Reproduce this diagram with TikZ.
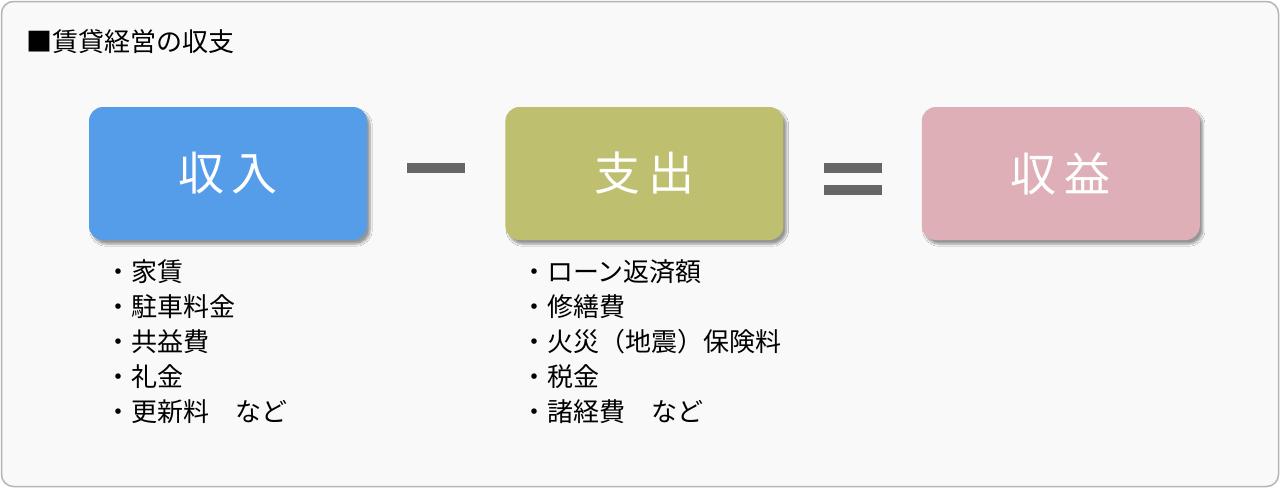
\documentclass[tikz,border=0pt]{standalone}
\usepackage{fontspec}
\setmainfont{Noto Sans CJK JP}
\usetikzlibrary{positioning}
\usetikzlibrary{shadows.blur}
\definecolor{frameline}{HTML}{B4B4B4}
\definecolor{framefill}{HTML}{F9F9F9}
\definecolor{incomeblue}{HTML}{559DE8}
\definecolor{costolive}{HTML}{BFBF70}
\definecolor{profitpink}{HTML}{DFAFB7}
\definecolor{signgray}{HTML}{666666}
\tikzset{
        boxnode/.style={align=center, inner sep=0pt, rounded corners=14pt, minimum width=278pt, minimum height=133pt,
            text=white, font=\fontsize{46}{46}\selectfont,
            blur shadow={shadow xshift=3pt, shadow yshift=-4pt, shadow opacity=40, shadow blur steps=6}},
        % Income box
        box_income/.style={boxnode, fill=incomeblue},
        % Cost box
        box_cost/.style={boxnode, fill=costolive},
        % Profit box
        box_profit/.style={boxnode, fill=profitpink},
        % Operator bars
        sign_bar/.style={inner sep=0pt, fill=signgray, minimum width=58pt, minimum height=10pt},
        % Item lists
        item_list/.style={align=left, inner sep=0pt, anchor=north west, font=\fontsize{26}{35.2}\selectfont}
}
\begin{document}
\begin{tikzpicture}[x=1pt, y=-1pt]
    \useasboundingbox (0,0) rectangle (1280,488);
    \draw[frameline, fill=framefill, line width=1.5pt, rounded corners=12pt] (1.5,1.5) rectangle (1278.5,486.5);
    \node[anchor=west, inner sep=0pt, font=\fontsize{26}{26}\selectfont] (title) at (26,42) {■賃貸経営の収支};

    \node[box_income] (income) at (228,173.5) {収\,入};
    \node[box_cost, right=138pt of income] (cost) {支\,出};
    \node[box_profit, right=138pt of cost] (profit) {収\,益};

    \node[sign_bar] (minus) at (435.5,168) {};
    \node[sign_bar] (equalA) at (852.5,168) {};
    \node[sign_bar, below=12pt of equalA] (equalB) {};

    \node[item_list] (incomelist) at (105,259)
        {・家賃\\・駐車料金\\・共益費\\・礼金\\・更新料　など};
    \node[item_list] (costlist) at (521,259)
        {・ローン返済額\\・修繕費\\・火災（地震）保険料\\・税金\\・諸経費　など};
\end{tikzpicture}
\end{document}
